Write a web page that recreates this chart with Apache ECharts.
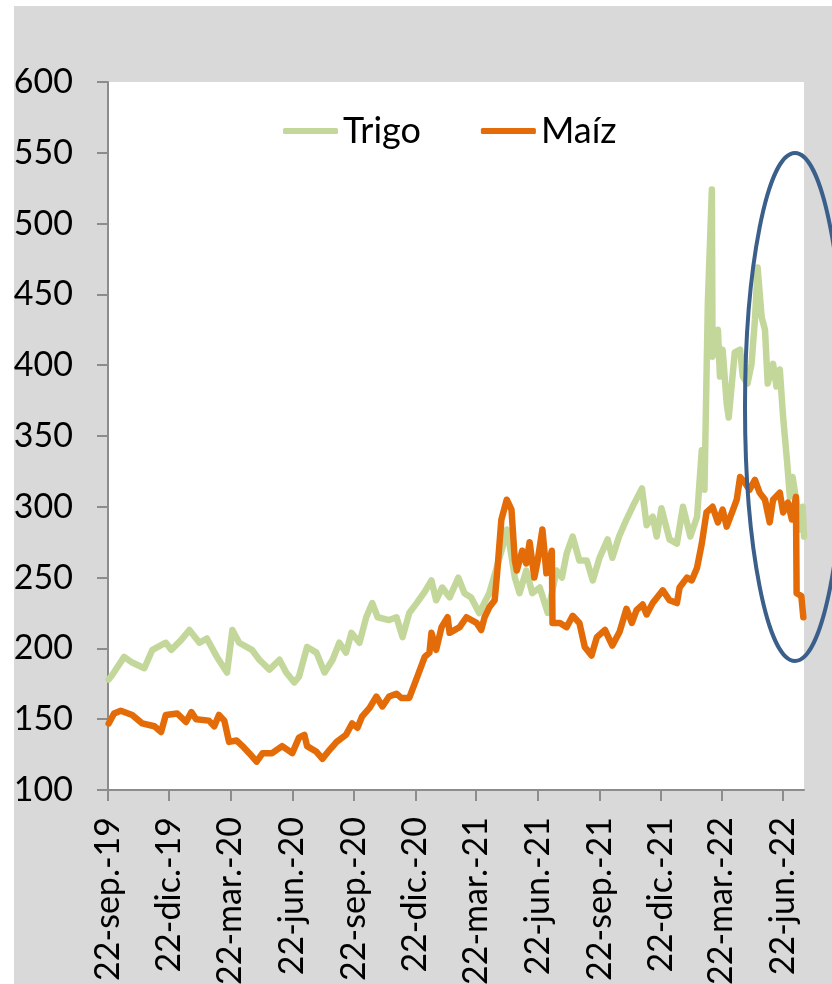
<!DOCTYPE html>
<html lang="es">
<head>
    <meta charset="UTF-8">
    <title>Trigo y Maíz</title>
    <script type="text/javascript" src="https://cdn.jsdelivr.net/npm/echarts@6/dist/echarts.min.js"></script>
    <style>
        html, body { margin: 0; padding: 0; background: #ffffff; }
        #main { position: absolute; left: 14px; top: 6px; width: 818px; height: 978px; }
    </style>
</head>
<body>
<div id="main"></div>
<script type="text/javascript">
    // eje x: días desde el 22-sep-2019
    var quarterDays = [0, 91, 182, 274, 366, 457, 547, 639, 731, 822, 912, 1004];
    var quarterLabels = ['22-sep.-19', '22-dic.-19', '22-mar.-20', '22-jun.-20', '22-sep.-20', '22-dic.-20',
        '22-mar.-21', '22-jun.-21', '22-sep.-21', '22-dic.-21', '22-mar.-22', '22-jun.-22'];
    var yTicks = [100, 150, 200, 250, 300, 350, 400, 450, 500, 550, 600];

    // [día, precio]
    var trigo = [
        [1, 178], [6, 181], [24, 194], [36, 190], [54, 186], [66, 199], [86, 204], [94, 199],
        [109, 206], [121, 213], [136, 204], [147, 207], [162, 194], [177, 183], [185, 213], [195, 204],
        [214, 199], [225, 192], [240, 185], [255, 192], [265, 183], [277, 176], [284, 180], [296, 201],
        [310, 197], [322, 183], [334, 192], [344, 204], [354, 197], [362, 211], [374, 204], [384, 222],
        [393, 232], [401, 222], [418, 220], [429, 222], [438, 208], [448, 225], [459, 232], [471, 240],
        [481, 248], [488, 234], [497, 243], [508, 236], [521, 250], [530, 239], [540, 236], [552, 225],
        [567, 239], [578, 257], [587, 272], [593, 284], [597, 274], [605, 250], [612, 239], [622, 255],
        [631, 239], [642, 243], [654, 225], [667, 255], [675, 250], [682, 267], [691, 279], [701, 262],
        [712, 262], [721, 248], [731, 264], [743, 277], [750, 264], [760, 279], [771, 291], [780, 300],
        [794, 313], [801, 287], [810, 293], [816, 279], [823, 299], [835, 277], [846, 274], [855, 300],
        [866, 279], [876, 293], [883, 340], [887, 312], [892, 444], [898, 524], [899, 406], [907, 425],
        [910, 392], [914, 411], [920, 373], [923, 363], [932, 409], [940, 411], [944, 392], [951, 387],
        [957, 401], [962, 432], [966, 469], [972, 434], [977, 425], [981, 387], [989, 401], [994, 385],
        [999, 397], [1004, 363], [1010, 331], [1014, 307], [1018, 321], [1024, 303], [1029, 284],
        [1033, 300], [1035, 279]
    ];
    var maiz = [
        [1, 147], [9, 154], [19, 156], [36, 153], [51, 147], [69, 145], [79, 141], [86, 153],
        [103, 154], [116, 148], [124, 155], [131, 150], [150, 149], [158, 145], [165, 153], [173, 149],
        [180, 134], [191, 135], [200, 131], [210, 126], [221, 120], [230, 126], [244, 126], [259, 131],
        [274, 126], [284, 137], [292, 139], [296, 131], [310, 127], [319, 122], [329, 128], [340, 134],
        [354, 139], [363, 147], [371, 144], [378, 152], [389, 158], [399, 166], [408, 159], [418, 166],
        [429, 168], [436, 165], [448, 165], [460, 180], [471, 194], [478, 197], [481, 211], [488, 199],
        [496, 215], [505, 222], [508, 211], [523, 215], [533, 222], [548, 218], [555, 213], [560, 222],
        [567, 229], [575, 234], [579, 255], [585, 291], [593, 305], [600, 298], [605, 262], [608, 255],
        [616, 269], [622, 260], [627, 275], [634, 250], [639, 262], [646, 284], [652, 253], [660, 269],
        [661, 218], [672, 218], [682, 215], [691, 223], [701, 218], [709, 201], [719, 195], [727, 208],
        [739, 213], [750, 202], [761, 212], [771, 228], [779, 218], [786, 227], [795, 231], [801, 224],
        [810, 232], [825, 241], [835, 234], [846, 232], [850, 243], [861, 250], [868, 248], [876, 257],
        [883, 274], [890, 296], [899, 300], [907, 289], [914, 298], [920, 286], [928, 296], [935, 305],
        [940, 321], [947, 317], [954, 312], [962, 319], [969, 310], [977, 305], [984, 289], [989, 305],
        [999, 310], [1004, 296], [1011, 303], [1017, 291], [1023, 307], [1024, 239], [1031, 237],
        [1034, 222]
    ];

    var axisGray = '#8c8c8c';
    var font = 'Lato, "Open Sans", sans-serif';

    var myChart = echarts.init(document.getElementById('main'));
    var option = {
        backgroundColor: '#d9d9d9',
        animation: false,
        textStyle: { fontFamily: font, color: '#000' },
        grid: {
            left: 94, top: 76, width: 696, height: 708,
            outerBoundsMode: 'none',
            show: true, backgroundColor: '#ffffff', borderWidth: 0
        },
        legend: {
            left: 264, top: 102,
            icon: 'roundRect',
            itemWidth: 55, itemHeight: 6, itemGap: 60,
            textStyle: { fontSize: 36, fontFamily: font, color: '#000' },
            data: ['Trigo', 'Maíz']
        },
        xAxis: {
            type: 'value',
            min: 0, max: 1035,
            axisLine: { show: true, lineStyle: { color: axisGray, width: 2 } },
            axisTick: { show: true, length: 11, customValues: quarterDays, lineStyle: { color: axisGray, width: 2 } },
            axisLabel: {
                customValues: quarterDays,
                rotate: 90, margin: 27,
                fontSize: 34, fontFamily: font, color: '#000',
                formatter: function (v) {
                    var i = quarterDays.indexOf(v);
                    return i >= 0 ? quarterLabels[i] : '';
                }
            },
            splitLine: { show: false }
        },
        yAxis: {
            type: 'value',
            min: 100, max: 600, interval: 50,
            axisLine: { show: true, lineStyle: { color: axisGray, width: 2 } },
            axisTick: { show: true, length: 11, lineStyle: { color: axisGray, width: 2 } },
            axisLabel: { customValues: yTicks, margin: 35, fontSize: 34, fontFamily: font, color: '#000' },
            splitLine: { show: false }
        },
        series: [
            {
                name: 'Trigo', type: 'line', data: trigo,
                symbol: 'none',
                lineStyle: { color: '#c4d79b', width: 6.5, join: 'round', cap: 'round' },
                itemStyle: { color: '#c4d79b' }
            },
            {
                name: 'Maíz', type: 'line', data: maiz,
                symbol: 'none',
                lineStyle: { color: '#e36c09', width: 6.5, join: 'round', cap: 'round' },
                itemStyle: { color: '#e36c09' }
            }
        ],
        // óvalo azul que marca la caída reciente
        graphic: [
            {
                type: 'ellipse',
                shape: { cx: 781, cy: 401, rx: 50, ry: 254 },
                style: { fill: 'none', stroke: '#3a5f8b', lineWidth: 4 },
                z: 100
            }
        ]
    };
    myChart.setOption(option);
</script>
</body>
</html>
